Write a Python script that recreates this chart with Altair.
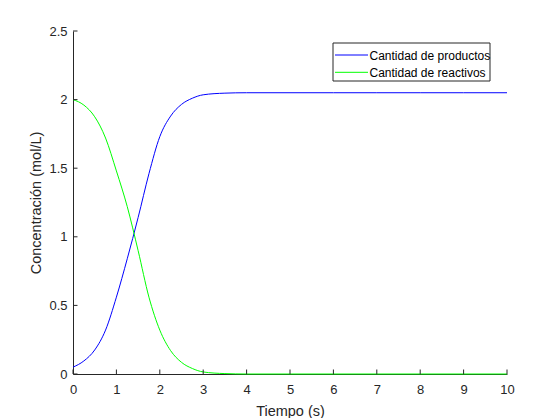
import altair as alt
import pandas as pd

# Data
tiempo = [0, 0.25, 0.5, 0.75, 1.0, 1.25, 1.5, 1.75, 2.0, 2.25, 2.5, 2.75, 3.0,
          3.5, 4, 5, 6, 7, 8, 9, 10]
productos = [0.05, 0.095, 0.175, 0.32, 0.56, 0.84, 1.14, 1.46, 1.73, 1.88, 1.965,
             2.01, 2.035, 2.047, 2.05, 2.05, 2.05, 2.05, 2.05, 2.05, 2.05]
reactivos = [2.00, 1.96, 1.875, 1.72, 1.48, 1.22, 0.90, 0.56, 0.32, 0.17, 0.085,
             0.04, 0.015, 0.003, 0.0, 0.0, 0.0, 0.0, 0.0, 0.0, 0.0]
series = ["Cantidad de productos", "Cantidad de reactivos"]
colores = ["#0000ff", "#00ff00"]
x_ticks = [0, 1, 2, 3, 4, 5, 6, 7, 8, 9, 10]
y_ticks = [0, 0.5, 1, 1.5, 2, 2.5]

df = pd.concat([
    pd.DataFrame({"t": tiempo, "c": productos, "serie": series[0]}),
    pd.DataFrame({"t": tiempo, "c": reactivos, "serie": series[1]}),
])

W, H = 434, 343
AX = "#262626"
FONT = "Liberation Sans"

xscale = alt.Scale(domain=[0, 10], nice=False, zero=False)
yscale = alt.Scale(domain=[0, 2.5], nice=False)

lines = alt.Chart(df).mark_line(strokeWidth=1, interpolate="monotone").encode(
    x=alt.X("t:Q", scale=xscale,
            axis=alt.Axis(title="Tiempo (s)", values=x_ticks, tickSize=0,
                          labelPadding=19, labelBaseline="alphabetic",
                          labelFlush=False, labelOverlap=False,
                          titleY=41, titleBaseline="alphabetic")),
    y=alt.Y("c:Q", scale=yscale,
            axis=alt.Axis(title="Concentración (mol/L)", values=y_ticks,
                          tickSize=0, labelPadding=6, format="~g",
                          labelFlush=False, labelOverlap=False,
                          titleX=-37, titleY=H / 2, titleAngle=270,
                          titleBaseline="middle", titleAlign="center")),
    color=alt.Color("serie:N", scale=alt.Scale(domain=series, range=colores),
                    sort=series, legend=None),
)

xt = alt.Chart(pd.DataFrame({"t": x_ticks})).mark_rule(color=AX, strokeWidth=1).encode(
    x=alt.X("t:Q", scale=xscale), y=alt.value(H), y2=alt.value(H - 4.5))
yt = alt.Chart(pd.DataFrame({"c": y_ticks})).mark_rule(color=AX, strokeWidth=1).encode(
    y=alt.Y("c:Q", scale=yscale), x=alt.value(0), x2=alt.value(4.5))

# Manual MATLAB-style legend box
LX0, LX1, LY0, LY1 = 260, 417, 12, 50
ROW_Y = [24, 41.3]
box = alt.Chart(pd.DataFrame({"k": [0]})).mark_rect(
    fill="white", stroke=AX, strokeWidth=1).encode(
    x=alt.value(LX0), x2=alt.value(LX1), y=alt.value(LY0), y2=alt.value(LY1))
legend_layers = [box]
for name, col, ry in zip(series, colores, ROW_Y):
    one = pd.DataFrame({"serie": [name]})
    legend_layers.append(alt.Chart(one).mark_rule(color=col, strokeWidth=1).encode(
        x=alt.value(LX0 + 2), x2=alt.value(LX0 + 35), y=alt.value(ry)))
    legend_layers.append(alt.Chart(one).mark_text(
        align="left", baseline="middle", font=FONT, fontSize=12, color="black").encode(
        text="serie:N", x=alt.value(LX0 + 36.5), y=alt.value(ry + 0.5)))

chart = alt.layer(lines, xt, yt, *legend_layers).properties(
    width=W, height=H,
    autosize=alt.AutoSizeParams(type="none"),
    padding={"left": 65, "top": 23, "right": 45, "bottom": 44},
).configure_view(stroke=None).configure_axis(
    grid=False, domainColor=AX, labelColor=AX, titleColor=AX, labelFont=FONT,
    titleFont=FONT, labelFontSize=13, titleFontSize=14.5, titleFontWeight="normal",
    domainWidth=1,
)

chart.save("out.html", embed_options={"renderer": "svg", "actions": False})
